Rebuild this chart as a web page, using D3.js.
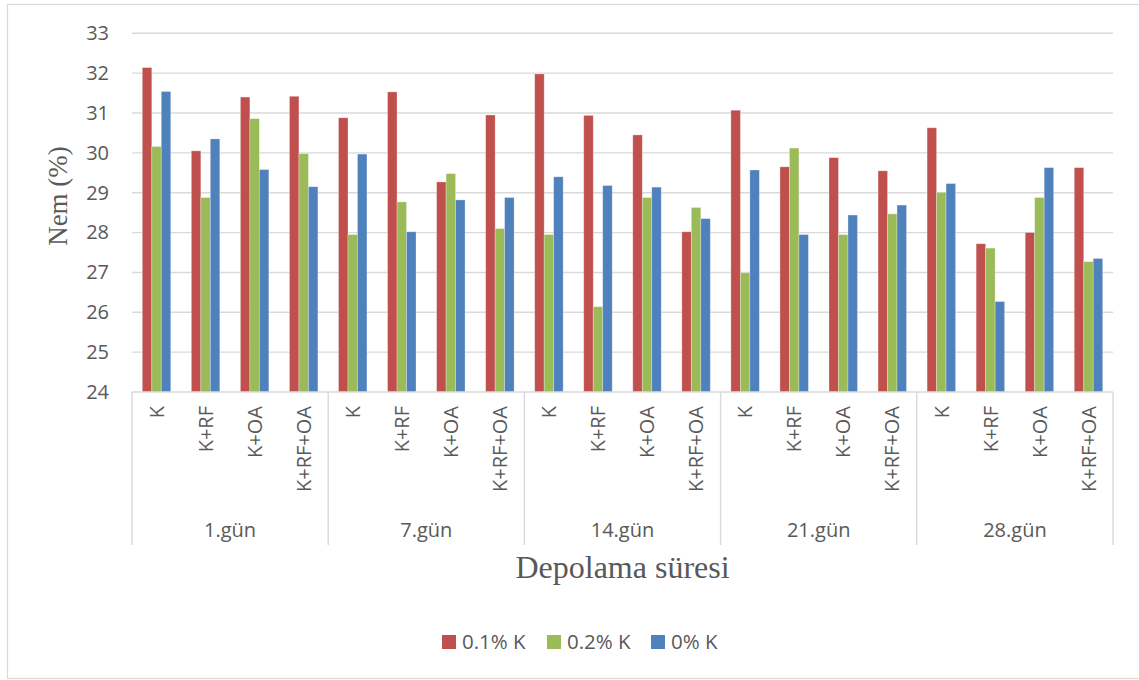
<!DOCTYPE html>
<html>
<head>
<meta charset="utf-8">
<script src="https://cdn.jsdelivr.net/npm/d3@7"></script>
<style>
  html, body { margin: 0; padding: 0; background: #fff; }
  svg { display: block; }
</style>
</head>
<body>
<svg id="chart" width="1139" height="680"></svg>
<script>
// Storage periods and treatments (two-level category axis)
const groups = ["1.gün", "7.gün", "14.gün", "21.gün", "28.gün"];
const treatments = ["K", "K+RF", "K+OA", "K+RF+OA"];
const seriesNames = ["0.1% K", "0.2% K", "0% K"];

// Moisture (%) per treatment, in group order
const moist01 = [32.14, 30.05, 31.40, 31.42, 30.88, 31.53, 29.27, 30.95, 31.98, 30.94, 30.45, 28.02, 31.07, 29.65, 29.88, 29.55, 30.63, 27.72, 28.00, 29.63];
const moist02 = [30.16, 28.88, 30.86, 29.98, 27.95, 28.77, 29.48, 28.10, 27.95, 26.14, 28.88, 28.63, 26.99, 30.12, 27.95, 28.47, 29.01, 27.61, 28.88, 27.27];
const moist00 = [31.54, 30.35, 29.58, 29.15, 29.97, 28.02, 28.82, 28.88, 29.40, 29.18, 29.14, 28.35, 29.57, 27.95, 28.44, 28.69, 29.23, 26.27, 29.63, 27.35];

const yTicks = [24, 25, 26, 27, 28, 29, 30, 31, 32, 33];
const colors = ["#C0504D", "#9BBB59", "#4F81BD"];

const seriesValues = [moist01, moist02, moist00];
const categories = [];
groups.forEach(g => treatments.forEach(t => categories.push({ key: g + "|" + t, group: g, label: t })));

const svg = d3.select("#chart");
const textColor = "#595959";
const gridColor = "#d9d9d9";
const sansFont = "'Open Sans', 'Liberation Sans', sans-serif";
const serifFont = "'Liberation Serif', 'DejaVu Serif', serif";

// Outer chart frame
svg.append("rect")
  .attr("x", 7.5).attr("y", 4.5)
  .attr("width", 1140).attr("height", 674)
  .attr("fill", "#fff")
  .attr("stroke", "#d9d9d9").attr("stroke-width", 1.2);

const plot = { left: 132, right: 1113, top: 33.3, bottom: 392 };

const y = d3.scaleLinear().domain([24, 33]).range([plot.bottom, plot.top]);

const x = d3.scaleBand()
  .domain(categories.map(c => c.key))
  .range([plot.left, plot.right])
  .paddingInner(0.42)
  .paddingOuter(0.21);

const xs = d3.scaleBand()
  .domain(d3.range(seriesNames.length))
  .range([0, x.bandwidth()])
  .padding(0);

// Horizontal gridlines
svg.append("g")
  .selectAll("line")
  .data(yTicks.filter(t => t > 24))
  .join("line")
  .attr("x1", plot.left).attr("x2", plot.right)
  .attr("y1", d => y(d)).attr("y2", d => y(d))
  .attr("stroke", gridColor).attr("stroke-width", 1.4);

// Y axis tick labels
const yAxis = d3.axisLeft(y).tickValues(yTicks).tickSize(0).tickPadding(0).tickFormat(d3.format("d"));
const yAxisG = svg.append("g")
  .attr("transform", `translate(${plot.left - 23},0)`)
  .call(yAxis);
yAxisG.select(".domain").remove();
yAxisG.selectAll("text")
  .attr("fill", textColor)
  .attr("font-family", sansFont)
  .attr("font-size", 20);

// Bars
const barRows = [];
categories.forEach((c, i) => {
  seriesValues.forEach((vals, s) => barRows.push({ key: c.key, s, v: vals[i] }));
});

svg.append("g")
  .selectAll("rect")
  .data(barRows)
  .join("rect")
  .attr("x", d => x(d.key) + xs(d.s))
  .attr("width", xs.bandwidth())
  .attr("y", d => y(d.v))
  .attr("height", d => y(24) - y(d.v))
  .attr("fill", d => colors[d.s])
  .attr("stroke", "#ffffff").attr("stroke-opacity", 0.35).attr("stroke-width", 0.8);

// Category axis line and group separators
const axisG = svg.append("g");
axisG.append("line")
  .attr("x1", plot.left).attr("x2", plot.right)
  .attr("y1", plot.bottom).attr("y2", plot.bottom)
  .attr("stroke", gridColor).attr("stroke-width", 1.4);

const groupWidth = (plot.right - plot.left) / groups.length;
const groupX = d3.scaleBand().domain(groups).range([plot.left, plot.right]);

axisG.selectAll("line.sep")
  .data(d3.range(groups.length + 1))
  .join("line")
  .attr("class", "sep")
  .attr("x1", i => plot.left + i * groupWidth)
  .attr("x2", i => plot.left + i * groupWidth)
  .attr("y1", plot.bottom).attr("y2", 545)
  .attr("stroke", gridColor).attr("stroke-width", 1.4);

// Treatment labels (rotated)
axisG.selectAll("text.cat")
  .data(categories)
  .join("text")
  .attr("class", "cat")
  .attr("transform", c => `translate(${x(c.key) + x.bandwidth() / 2},406) rotate(-90)`)
  .attr("text-anchor", "end")
  .attr("dy", "0.36em")
  .attr("fill", textColor)
  .attr("font-family", sansFont)
  .attr("font-size", 20)
  .text(c => c.label);

// Storage period labels
axisG.selectAll("text.grp")
  .data(groups)
  .join("text")
  .attr("class", "grp")
  .attr("x", g => groupX(g) + groupX.bandwidth() / 2)
  .attr("y", 537)
  .attr("text-anchor", "middle")
  .attr("fill", textColor)
  .attr("font-family", sansFont)
  .attr("font-size", 20)
  .text(g => g);

// Axis titles
svg.append("text")
  .attr("x", (plot.left + plot.right) / 2)
  .attr("y", 578)
  .attr("text-anchor", "middle")
  .attr("fill", textColor)
  .attr("font-family", serifFont)
  .attr("font-size", 32)
  .text("Depolama süresi");

svg.append("text")
  .attr("transform", "translate(58,196) rotate(-90)")
  .attr("text-anchor", "middle")
  .attr("dy", "0.35em")
  .attr("fill", textColor)
  .attr("font-family", serifFont)
  .attr("font-size", 27)
  .text("Nem (%)");

// Legend
const legendX = [442, 547, 651];
const legend = svg.append("g")
  .selectAll("g")
  .data(seriesNames)
  .join("g")
  .attr("transform", (d, i) => `translate(${legendX[i]},635)`);
legend.append("rect")
  .attr("width", 14).attr("height", 14)
  .attr("fill", (d, i) => colors[i]);
legend.append("text")
  .attr("x", 20).attr("y", 7)
  .attr("dy", "0.36em")
  .attr("fill", textColor)
  .attr("font-family", sansFont)
  .attr("font-size", 20.5)
  .text(d => d);
</script>
</body>
</html>
